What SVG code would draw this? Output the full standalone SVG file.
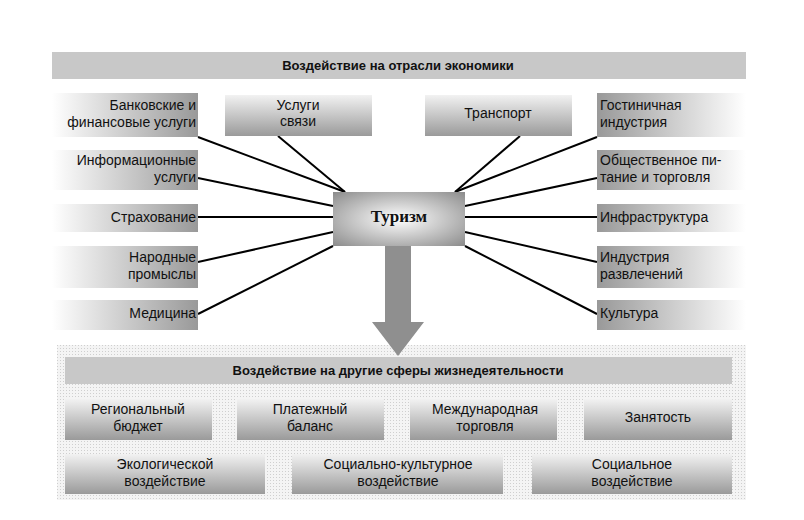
<svg xmlns="http://www.w3.org/2000/svg" width="804" height="520" viewBox="0 0 804 520">
<defs>
<linearGradient id="gl" x1="0" x2="1" y1="0" y2="0"><stop offset="0" stop-color="#fff"/><stop offset="1" stop-color="#999"/></linearGradient>
<linearGradient id="gr" x1="0" x2="1" y1="0" y2="0"><stop offset="0" stop-color="#999"/><stop offset="1" stop-color="#fff"/></linearGradient>
<linearGradient id="gv" x1="0" x2="0" y1="0" y2="1"><stop offset="0" stop-color="#f2f2f2"/><stop offset="1" stop-color="#9a9a9a"/></linearGradient>
<radialGradient id="rt" cx="0.5" cy="0.5" r="0.7"><stop offset="0" stop-color="#fff"/><stop offset="1" stop-color="#8c8c8c"/></radialGradient>
<pattern id="dots" width="3" height="3" patternUnits="userSpaceOnUse"><rect width="3" height="3" fill="#f4f4f4"/><rect width="1" height="1" fill="#cfcfcf"/></pattern>
</defs>
<style>
text{font-family:"Liberation Sans",Arial,sans-serif;font-size:14px;fill:#111}
.b{font-weight:bold;font-size:13px}
.l{text-anchor:end}
.c{text-anchor:middle}
.con line{stroke:#000;stroke-width:2}
</style>
<rect width="804" height="520" fill="#fff"/>
<g id="top"><rect x="52" y="52" width="694" height="27" fill="#c8c8c8"/><text class="b c" x="398" y="70">Воздействие на отрасли экономики</text></g>
<g class="con">
<line x1="198" y1="137" x2="345" y2="192"/><line x1="278" y1="136" x2="345" y2="192"/>
<line x1="198" y1="178" x2="333" y2="206"/><line x1="198" y1="217" x2="333" y2="217"/>
<line x1="198" y1="262" x2="333" y2="232"/><line x1="198" y1="314" x2="333" y2="246"/>
<line x1="597" y1="137" x2="455" y2="192"/><line x1="520" y1="136" x2="455" y2="192"/>
<line x1="597" y1="178" x2="465" y2="206"/><line x1="597" y1="217" x2="465" y2="217"/>
<line x1="597" y1="262" x2="465" y2="232"/><line x1="597" y1="314" x2="465" y2="246"/>
</g>
<g id="n1"><rect x="52" y="93" width="146" height="44" fill="url(#gl)"/><text class="l" x="196" y="110">Банковские и</text><text class="l" x="196" y="127">финансовые услуги</text></g>
<g id="n2"><rect x="52" y="150" width="146" height="40" fill="url(#gl)"/><text class="l" x="196" y="165">Информационные</text><text class="l" x="196" y="182">услуги</text></g>
<g id="n3"><rect x="52" y="204" width="146" height="28" fill="url(#gl)"/><text class="l" x="196" y="222">Страхование</text></g>
<g id="n4"><rect x="52" y="246" width="146" height="42" fill="url(#gl)"/><text class="l" x="196" y="262">Народные</text><text class="l" x="196" y="279">промыслы</text></g>
<g id="n5"><rect x="52" y="300" width="146" height="30" fill="url(#gl)"/><text class="l" x="196" y="318">Медицина</text></g>
<g id="n6"><rect x="225" y="95" width="147" height="41" fill="url(#gv)"/><text class="c" x="298" y="110">Услуги</text><text class="c" x="298" y="126">связи</text></g>
<g id="n7"><rect x="425" y="95" width="147" height="41" fill="url(#gv)"/><text class="c" x="498" y="118">Транспорт</text></g>
<g id="n8"><rect x="597" y="93" width="149" height="44" fill="url(#gr)"/><text x="600" y="110">Гостиничная</text><text x="600" y="127">индустрия</text></g>
<g id="n9"><rect x="597" y="150" width="149" height="40" fill="url(#gr)"/><text x="600" y="165">Общественное пи-</text><text x="600" y="182">тание и торговля</text></g>
<g id="n10"><rect x="597" y="204" width="149" height="28" fill="url(#gr)"/><text x="600" y="222">Инфраструктура</text></g>
<g id="n11"><rect x="597" y="246" width="149" height="42" fill="url(#gr)"/><text x="600" y="262">Индустрия</text><text x="600" y="279">развлечений</text></g>
<g id="n12"><rect x="597" y="300" width="149" height="30" fill="url(#gr)"/><text x="600" y="318">Культура</text></g>
<g id="bottom">
<rect x="57" y="345" width="689" height="155" fill="url(#dots)"/>
<rect x="65" y="357" width="667" height="27" fill="#c8c8c8"/><text class="b c" x="398" y="375">Воздействие на другие сферы жизнедеятельности</text>
</g>
<g id="arrow"><polygon points="385,245 411,245 411,322 424,322 398,356 372,322 385,322" fill="#8f8f8f"/></g>
<g id="tur"><rect x="333" y="192" width="132" height="54" fill="url(#rt)"/><text class="c" x="399" y="222" style="font-family:'Liberation Serif',serif;font-size:17px;font-weight:bold">Туризм</text></g>
<g id="b1"><rect x="65" y="399" width="147" height="41" fill="url(#gv)"/><text class="c" x="138" y="414">Региональный</text><text class="c" x="138" y="431">бюджет</text></g>
<g id="b2"><rect x="237" y="399" width="147" height="41" fill="url(#gv)"/><text class="c" x="310" y="414">Платежный</text><text class="c" x="310" y="431">баланс</text></g>
<g id="b3"><rect x="410" y="399" width="147" height="41" fill="url(#gv)"/><text class="c" x="485" y="414">Международная</text><text class="c" x="485" y="431">торговля</text></g>
<g id="b4"><rect x="584" y="399" width="148" height="41" fill="url(#gv)"/><text class="c" x="658" y="422">Занятость</text></g>
<g id="b5"><rect x="65" y="454" width="200" height="40" fill="url(#gv)"/><text class="c" x="165" y="469">Экологической</text><text class="c" x="165" y="486">воздействие</text></g>
<g id="b6"><rect x="292" y="454" width="211" height="40" fill="url(#gv)"/><text class="c" x="398" y="469">Социально-культурное</text><text class="c" x="398" y="486">воздействие</text></g>
<g id="b7"><rect x="532" y="454" width="200" height="40" fill="url(#gv)"/><text class="c" x="632" y="469">Социальное</text><text class="c" x="632" y="486">воздействие</text></g>
</svg>
